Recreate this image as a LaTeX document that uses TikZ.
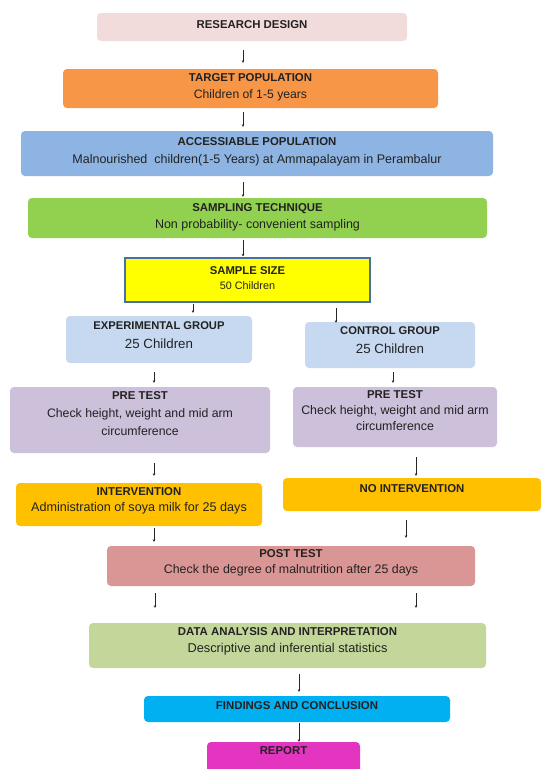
\documentclass[tikz,border=0pt]{standalone}
\usepackage{fontspec}
\setmainfont{Liberation Sans}
\usetikzlibrary{arrows.meta}
\definecolor{cRD}{HTML}{F2DCDB}
\definecolor{cTP}{HTML}{F79646}
\definecolor{cAP}{HTML}{8DB4E2}
\definecolor{cST}{HTML}{92D050}
\definecolor{cSS}{HTML}{FFFF00}
\definecolor{cSSb}{HTML}{4A6FA5}
\definecolor{cGR}{HTML}{C6D9F0}
\definecolor{cPT}{HTML}{CCC0DA}
\definecolor{cIN}{HTML}{FFC000}
\definecolor{cPO}{HTML}{DA9694}
\definecolor{cDA}{HTML}{C4D79B}
\definecolor{cFC}{HTML}{00B0F0}
\definecolor{cRE}{HTML}{E335C0}
\definecolor{txtc}{HTML}{222222}
\newcommand\hdline[1]{{\fontsize{11.4}{17}\selectfont\bfseries #1}}
\begin{document}
\begin{tikzpicture}[x=1pt,y=-1pt,
  bx/.style={rectangle, rounded corners=4pt, inner sep=0pt, draw=none},
  txt/.style={align=center, inner sep=0pt, text=txtc, font=\fontsize{12.5}{17}\selectfont},
  conn/.style={line width=0.9pt, draw=black!85, -{Stealth[length=2.5pt,width=2.6pt]}}]
\useasboundingbox (0,0) rectangle (543,769);
\fill[white] (0,0) rectangle (543,769);
\begin{scope}
\clip (0,0) rectangle (543,769);
% boxes
\node[bx, fill=cRD, minimum width=310pt, minimum height=28pt] (rd) at (252,27) {};
\node[bx, fill=cTP, minimum width=375pt, minimum height=39pt] (tp) at (250.5,88.5) {};
\node[bx, fill=cAP, minimum width=472pt, minimum height=45pt] (ap) at (257,153.5) {};
\node[bx, fill=cST, minimum width=459pt, minimum height=40pt] (st) at (257.5,218) {};
\node[rectangle, inner sep=0pt, fill=cSS, draw=cSSb, line width=1.1pt, minimum width=245pt, minimum height=44pt] (ss) at (247.5,280) {};
\node[bx, fill=cGR, minimum width=186pt, minimum height=47pt] (eg) at (159,339.5) {};
\node[bx, fill=cGR, minimum width=170pt, minimum height=46pt] (cg) at (390,345) {};
\node[bx, fill=cPT, minimum width=260pt, minimum height=66pt] (pa) at (140,420) {};
\node[bx, fill=cPT, minimum width=204pt, minimum height=60pt] (pb) at (395,417) {};
\node[bx, fill=cIN, minimum width=246pt, minimum height=43pt] (iv) at (139,504.5) {};
\node[bx, fill=cIN, minimum width=258pt, minimum height=33pt] (ni) at (412,494.5) {};
\node[bx, fill=cPO, minimum width=368pt, minimum height=40pt] (po) at (291,566) {};
\node[bx, fill=cDA, minimum width=397pt, minimum height=45pt] (da) at (287.5,645.5) {};
\node[bx, fill=cFC, minimum width=306pt, minimum height=26pt] (fc) at (297,709) {};
\node[bx, fill=cRE, minimum width=153pt, minimum height=36pt] (re) at (283.5,760) {};
% texts
\node[txt] (rdT) at (252,25) {\hdline{RESEARCH DESIGN}};
\node[txt, font=\fontsize{12.2}{16.5}\selectfont] (tpT) at (250.5,87.5) {\hdline{TARGET POPULATION}\\Children of 1-5 years};
\node[txt, font=\fontsize{12.5}{18}\selectfont] (apT) at (257,151.5) {\hdline{ACCESSIABLE POPULATION}\\Malnourished\ \ children(1-5 Years) at Ammapalayam in Perambalur};
\node[txt] (stT) at (257.5,217.5) {\hdline{SAMPLING TECHNIQUE}\\Non probability- convenient sampling};
\node[txt, font=\fontsize{10.8}{15}\selectfont] (ssT) at (247.5,278.5) {{\fontsize{11.3}{15}\selectfont\bfseries SAMPLE SIZE}\\50 Children};
\node[txt, font=\fontsize{13.3}{19}\selectfont] (egT) at (159,335.5) {{\fontsize{11.2}{19}\selectfont\bfseries EXPERIMENTAL GROUP}\\25 Children};
\node[txt, font=\fontsize{13.3}{19}\selectfont] (cgT) at (390,340.5) {{\fontsize{11.2}{19}\selectfont\bfseries CONTROL GROUP}\\25 Children};
\node[txt, font=\fontsize{12.3}{18}\selectfont] (paT) at (140,413.5) {\hdline{PRE TEST}\\Check height, weight and mid arm\\circumference};
\node[txt, font=\fontsize{12.4}{16}\selectfont] (pbT) at (395,411) {\hdline{PRE TEST}\\Check height, weight and mid arm\\circumference};
\node[txt, font=\fontsize{12.6}{16}\selectfont] (ivT) at (139,500.5) {\hdline{INTERVENTION}\\Administration of soya milk for 25 days};
\node[txt] (niT) at (412,488.5) {\hdline{NO INTERVENTION}};
\node[txt, font=\fontsize{12.4}{16}\selectfont] (poT) at (291,563) {\hdline{POST TEST}\\Check the degree of malnutrition after 25 days};
\node[txt, font=\fontsize{12.8}{17}\selectfont] (daT) at (287.5,641.5) {\hdline{DATA ANALYSIS AND INTERPRETATION}\\Descriptive and inferential statistics};
\node[txt] (fcT) at (297,706) {\hdline{FINDINGS AND CONCLUSION}};
\node[txt] (reT) at (283.5,751) {\hdline{REPORT}};
% connector x positions
\coordinate (xa) at (243,0);
\coordinate (xb) at (193,0);
\coordinate (xc) at (336,0);
\coordinate (xd) at (154,0);
\coordinate (xe) at (393,0);
\coordinate (xf) at (416,0);
\coordinate (xg) at (406,0);
\coordinate (xh) at (155,0);
\coordinate (xi) at (299,0);
% connectors
\draw[conn, shorten <=9pt, shorten >=6pt] (rd.south -| xa) -- (tp.north -| xa);
\draw[conn, shorten <=4pt, shorten >=4pt] (tp.south -| xa) -- (ap.north -| xa);
\draw[conn, shorten <=6pt, shorten >=1pt] (ap.south -| xa) -- (st.north -| xa);
\draw[conn, shorten <=2pt, shorten >=1pt] (st.south -| xa) -- (ss.north -| xa);
\draw[conn, shorten <=1.5pt, shorten >=3pt] (ss.south -| xb) -- (eg.north -| xb);
\draw[conn, shorten <=5pt, shorten >=-1pt] (ss.south -| xc) -- (cg.north -| xc);
\draw[conn, shorten <=9pt, shorten >=4pt] (eg.south -| xd) -- (pa.north -| xd);
\draw[conn, shorten <=4pt, shorten >=4pt] (cg.south -| xe) -- (pb.north -| xe);
\draw[conn, shorten <=10pt, shorten >=7pt] (pa.south -| xd) -- (iv.north -| xd);
\draw[conn, shorten <=10pt, shorten >=2pt] (pb.south -| xf) -- (ni.north -| xf);
\draw[conn, shorten <=2pt, shorten >=4pt] (iv.south -| xd) -- (po.north -| xd);
\draw[conn, shorten <=9pt, shorten >=8pt] (ni.south -| xg) -- (po.north -| xg);
\draw[conn, shorten <=7pt, shorten >=15pt] (po.south -| xh) -- (da.north -| xh);
\draw[conn, shorten <=7pt, shorten >=15pt] (po.south -| xf) -- (da.north -| xf);
\draw[conn, shorten <=6pt, shorten >=4pt] (da.south -| xi) -- (fc.north -| xi);
\draw[conn, shorten <=1pt, shorten >=0pt] (fc.south -| xi) -- (re.north -| xi);
\end{scope}
\end{tikzpicture}
\end{document}
